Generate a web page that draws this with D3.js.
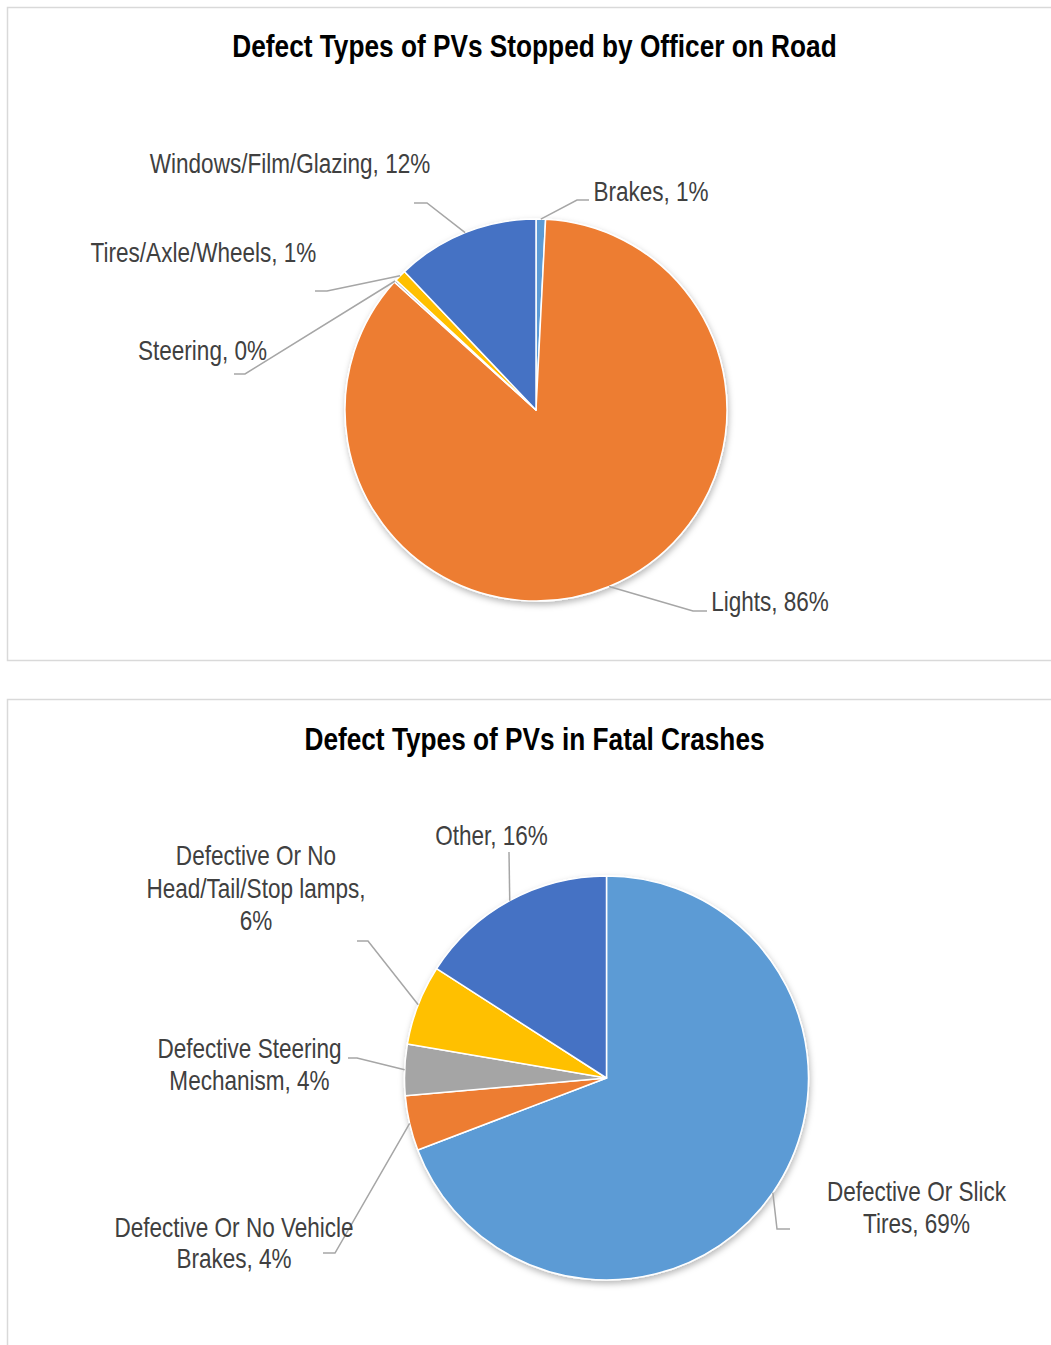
<!DOCTYPE html>
<html>
<head>
<meta charset="utf-8">
<script src="https://cdn.jsdelivr.net/npm/d3@7"></script>
<style>
  body { margin: 0; background: #ffffff; }
  svg { display: block; }
</style>
</head>
<body>
<svg id="chart" width="1051" height="1345"></svg>
<script>
// ---------------- DATA ----------------
const chart1Title = "Defect Types of PVs Stopped by Officer on Road";
const chart1Categories = ["Brakes", "Lights", "Steering", "Tires/Axle/Wheels", "Windows/Film/Glazing"];
const chart1Values = [0.8, 85.9, 0.2, 1.0, 12.1];

const chart2Title = "Defect Types of PVs in Fatal Crashes";
const chart2Categories = ["Defective Or Slick Tires", "Defective Or No Vehicle Brakes", "Defective Steering Mechanism", "Defective Or No Head/Tail/Stop lamps", "Other"];
const chart2Values = [69.2, 4.4, 4.1, 6.4, 15.9];

// ---------------- STYLE / LAYOUT ----------------
const sliceColors1 = ["#5B9BD5", "#ED7D31", "#A5A5A5", "#FFC000", "#4472C4"];
const sliceColors2 = ["#5B9BD5", "#ED7D31", "#A5A5A5", "#FFC000", "#4472C4"];

const panel1 = { x: 7, y: 7, w: 1060, h: 653, titleY: 57, cx: 536, cy: 410, r: 191 };
const panel2 = { x: 7, y: 699, w: 1060, h: 700, titleY: 750, cx: 606.5, cy: 1078, r: 202 };

// label layout: text centre x, first baseline, line height, words per line, leader elbow & end
const labelLayout1 = [
  { x: 651, y: 201, lh: 32, breaks: [], elbow: [577, 200], end: [589, 200] },
  { x: 770, y: 611, lh: 32, breaks: [], elbow: [693, 611], end: [707, 611] },
  { x: 202.5, y: 360, lh: 32, breaks: [], elbow: [245, 374], end: [234, 374] },
  { x: 203.5, y: 262, lh: 32, breaks: [], elbow: [327, 291], end: [315, 291] },
  { x: 290, y: 173, lh: 32, breaks: [], elbow: [427, 203], end: [414, 203] }
];
const labelLayout2 = [
  { x: 916.5, y: 1201, lh: 31.5, breaks: [3], elbow: [777, 1229], end: [790, 1229] },
  { x: 234, y: 1237, lh: 31, breaks: [4], elbow: [335, 1253], end: [323, 1253] },
  { x: 249.5, y: 1058, lh: 32, breaks: [2], elbow: [357, 1058], end: [348, 1058] },
  { x: 256, y: 865, lh: 32.5, breaks: [3, 2], elbow: [368, 941], end: [357, 941] },
  { x: 491.5, y: 845, lh: 32, breaks: [], elbow: [509, 852], end: [509, 852] }
];

const svg = d3.select("#chart");

// ---- font detection (narrow font or horizontally scaled fallback) ----
function measure(family, weight) {
  const t = svg.append("text").attr("x", -1000).attr("y", -1000)
    .style("font-family", family).style("font-size", "40px").style("font-weight", weight)
    .text("Defective Or No Vehicle Brakes");
  const w = t.node().getComputedTextLength();
  t.remove();
  return w;
}
const wNarrow = measure("'Liberation Sans Narrow'", "normal");
const wArial = measure("'Liberation Sans', Arial", "normal");
const hasNarrow = wNarrow / wArial < 0.9;
const FAMILY = hasNarrow ? "'Liberation Sans Narrow', 'Arial Narrow', sans-serif" : "'Liberation Sans', Arial, sans-serif";
const SX = hasNarrow ? 1 : 0.82;

function addText(g, x, y, str, size, weight, fill, anchor) {
  return g.append("text")
    .attr("transform", `translate(${x},${y}) scale(${SX},1)`)
    .attr("text-anchor", anchor || "middle")
    .style("font-family", FAMILY)
    .style("font-size", size + "px")
    .style("font-weight", weight)
    .style("fill", fill)
    .text(str);
}

// shadow filter
const defs = svg.append("defs");
const f = defs.append("filter").attr("id", "pieShadow")
  .attr("x", "-20%").attr("y", "-20%").attr("width", "140%").attr("height", "140%");
f.append("feDropShadow").attr("dx", 1).attr("dy", 3).attr("stdDeviation", 3)
  .attr("flood-color", "#000").attr("flood-opacity", 0.28);

function drawPanel(panel, title, categories, values, colors, layout) {
  const g = svg.append("g");
  g.append("rect")
    .attr("x", panel.x + 0.5).attr("y", panel.y + 0.5)
    .attr("width", panel.w).attr("height", panel.h)
    .attr("fill", "#fff").attr("stroke", "#d9d9d9").attr("stroke-width", 1.5);

  addText(g, 534.5, panel.titleY, title, 32, "bold", "#000", "middle");

  const total = d3.sum(values);
  const pie = d3.pie().sort(null).value(d => d)(values);
  const arc = d3.arc().innerRadius(0).outerRadius(panel.r);

  const pg = g.append("g").attr("transform", `translate(${panel.cx},${panel.cy})`);
  pg.append("g").attr("filter", "url(#pieShadow)")
    .selectAll("path").data(pie).join("path")
    .attr("d", arc)
    .attr("fill", (d, i) => colors[i])
    .attr("stroke", "#ffffff")
    .attr("stroke-width", 1.5)
    .attr("stroke-linejoin", "round");

  pie.forEach((d, i) => {
    const L = layout[i];
    const mid = (d.startAngle + d.endAngle) / 2;
    const sx = panel.cx + panel.r * Math.sin(mid);
    const sy = panel.cy - panel.r * Math.cos(mid);
    const line = d3.line();
    g.append("path")
      .attr("d", line([[sx, sy], L.elbow, L.end]))
      .attr("fill", "none").attr("stroke", "#a6a6a6").attr("stroke-width", 1.5);

    const pct = Math.round(d.data / total * 100) + "%";
    const full = categories[i] + ", " + pct;
    const words = full.split(" ");
    const lines = [];
    let idx = 0;
    L.breaks.forEach(n => { lines.push(words.slice(idx, idx + n).join(" ")); idx += n; });
    lines.push(words.slice(idx).join(" "));
    lines.forEach((ln, k) => addText(g, L.x, L.y + k * L.lh, ln, 27.5, "normal", "#404040", "middle"));
  });
}

drawPanel(panel1, chart1Title, chart1Categories, chart1Values, sliceColors1, labelLayout1);
drawPanel(panel2, chart2Title, chart2Categories, chart2Values, sliceColors2, labelLayout2);
</script>
</body>
</html>
